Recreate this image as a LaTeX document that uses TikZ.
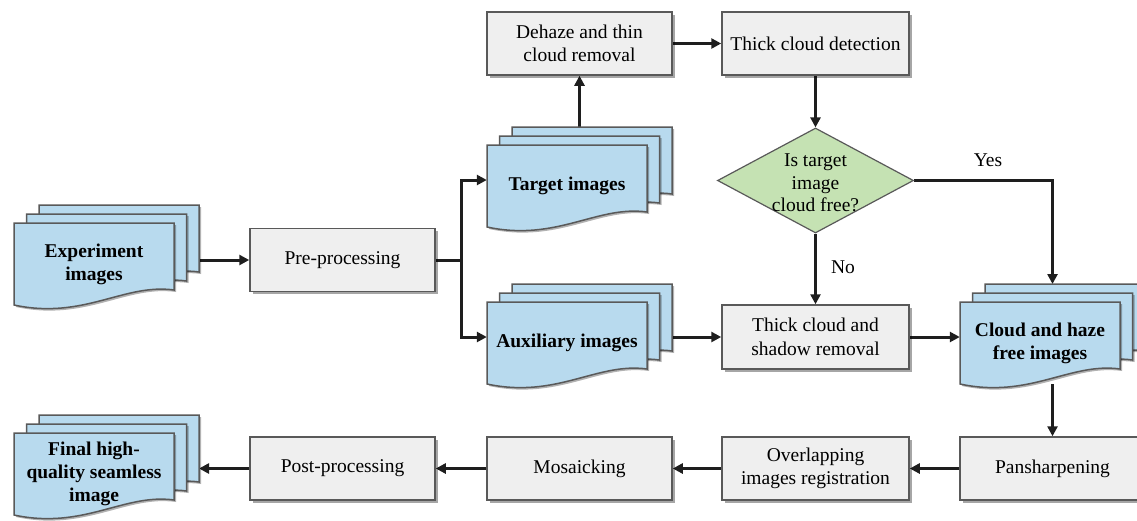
\documentclass[tikz,border=0pt]{standalone}
\usepackage{fontspec}
\setmainfont{Liberation Serif}
\usetikzlibrary{shapes.geometric,shadows,arrows.meta,backgrounds}
\definecolor{boxfill}{HTML}{EFEFEF}
\definecolor{boxdraw}{HTML}{595959}
\definecolor{docfill}{HTML}{B8DAEE}
\definecolor{decfill}{HTML}{C5E2B3}
\definecolor{arrowc}{HTML}{1E1E1E}
\tikzset{
  procbox/.style={draw=boxdraw, fill=boxfill, line width=1.5pt, minimum width=185pt,
    minimum height=63pt, inner sep=0pt, align=center, font=\fontsize{19.5}{23.5}\selectfont,
    drop shadow={shadow xshift=2.5pt, shadow yshift=-2.5pt, fill=black, opacity=0.35}},
  decision/.style={diamond, draw=boxdraw, fill=decfill, line width=1.2pt,
    minimum width=196pt, minimum height=105pt, inner sep=0pt},
  docshape/.style={draw=boxdraw, fill=docfill, line width=1.5pt,
    drop shadow={shadow xshift=2pt, shadow yshift=-2pt, fill=black, opacity=0.3}},
  doctext/.style={minimum width=160pt, minimum height=82pt, inner sep=0pt, align=center,
    font=\bfseries\fontsize{19.5}{23}\selectfont},
  ghost/.style={inner sep=0pt, outer sep=0pt, draw=none},
  conn/.style={draw=arrowc, line width=3pt, -{Triangle[length=10pt,width=10pt]}},
  plainline/.style={draw=arrowc, line width=3pt},
  lbl/.style={font=\fontsize{19.5}{23}\selectfont, inner sep=0pt}
}
\newcommand\docpage[2]{\filldraw[docshape] ({#1},{#2}) -- ({#1+160},{#2}) -- ({#1+160},{#2+67})
  .. controls ({#1+110},{#2+60}) and ({#1+70},{#2+97}) .. ({#1},{#2+82}) -- cycle;}
\newcommand\docstack[4]{%
  \node[ghost, minimum width=185pt, minimum height=100pt] (#1-stack) at ({#2+92.5},{#3+32}) {};
  \docpage{#2+25}{#3-18}\docpage{#2+12.5}{#3-9}\docpage{#2}{#3}
  \node[doctext] (#1) at ({#2+80},{#3+41}) {#4};}
\begin{document}
\begin{tikzpicture}[x=1pt,y=-1pt]
\useasboundingbox (0,0) rectangle (1137,520);
\clip (0,0) rectangle (1137,520);

% process boxes
\node[procbox] (dehaze) at (579.5,43.5) {Dehaze and thin\\cloud removal};
\node[procbox, minimum width=187pt] (det) at (815.5,43.5) {Thick cloud detection};
\node[procbox] (pre) at (342.5,260) {Pre-processing};
\node[procbox, minimum width=187pt, minimum height=64pt] (rem) at (815.5,337) {Thick cloud and\\shadow removal};
\node[procbox] (pan) at (1052.5,468.5) {Pansharpening};
\node[procbox, minimum width=187pt] (ovl) at (815.5,468.5) {Overlapping\\images registration};
\node[procbox] (mos) at (579.5,468.5) {Mosaicking};
\node[procbox] (post) at (342.5,468.5) {Post-processing};

% decision
\node[decision] (dec) at (815.5,180.5) {};
\node[lbl, align=center, font=\fontsize{19.5}{22.5}\selectfont] (dectext) at (815.5,183) {Is target\\image\\cloud free?};

% document stacks
\docstack{exp}{14}{223}{Experiment\\images}
\docstack{tgt}{487}{145}{Target images}
\docstack{aux}{487}{302}{Auxiliary images}
\docstack{chf}{960}{302}{Cloud and haze\\free images}
\docstack{fin}{14}{433}{Final high-\\quality seamless\\image}

% labels
\node[lbl] (yes) at (988,160) {Yes};
\node[lbl] (no) at (843,267) {No};

% connectors
\begin{pgfonlayer}{background}
\coordinate (split) at (461,260);
\draw[conn] (exp-stack.east |- pre.west) -- (pre.west);
\draw[plainline] (pre.east) -- (split);
\draw[conn] (split) |- ([yshift=6pt]tgt.west);
\draw[conn] (split) |- ([yshift=6pt]aux.west);
\draw[conn] (dehaze.south |- tgt-stack.north) -- (dehaze.south);
\draw[conn] (dehaze.east) -- (det.west);
\draw[conn] (det.south) -- (dec.north);
\draw[conn] (dec.east) -| (chf-stack.north);
\draw[conn] (dec.south) -- (rem.north);
\draw[conn] (aux-stack.east |- rem.west) -- (rem.west);
\draw[conn] (rem.east) -- (rem.east -| chf.west);
\draw[conn] (chf-stack.south -| pan.north) -- (pan.north);
\draw[conn] (pan.west) -- (ovl.east);
\draw[conn] (ovl.west) -- (mos.east);
\draw[conn] (mos.west) -- (post.east);
\draw[conn] (post.west) -- (post.west -| fin-stack.east);
\end{pgfonlayer}
\end{tikzpicture}
\end{document}
